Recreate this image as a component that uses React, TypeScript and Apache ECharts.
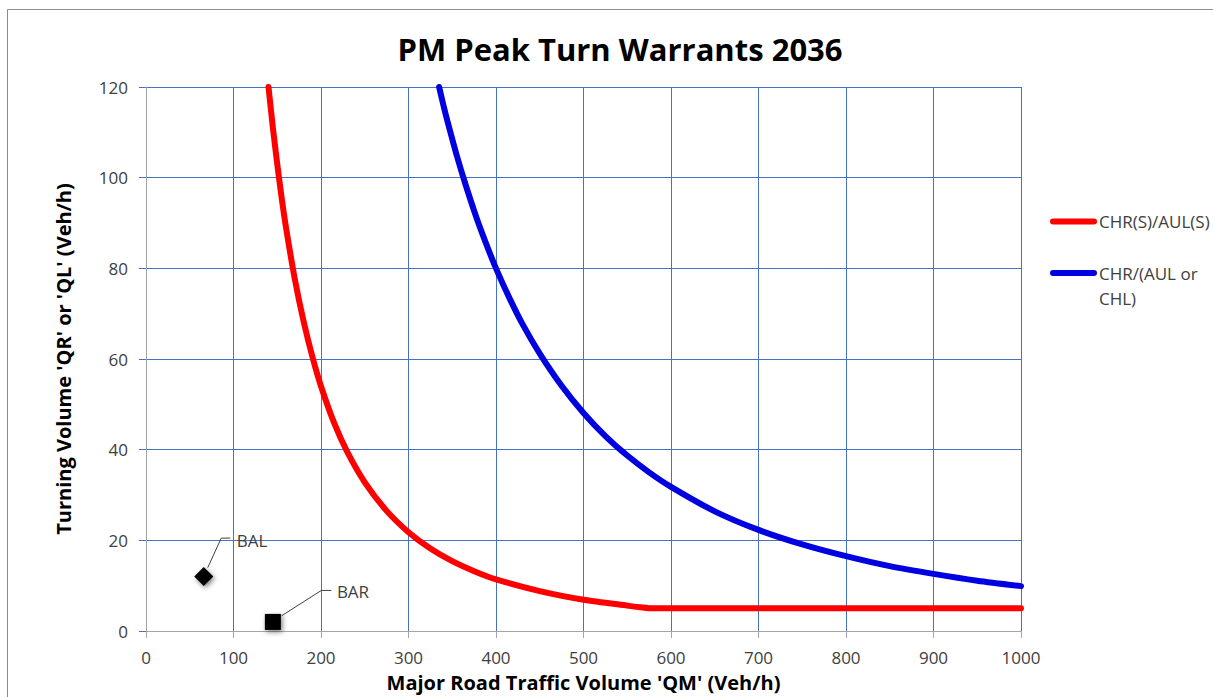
import React, { useEffect, useRef } from "react";
import * as echarts from "echarts";

const titleText = "PM Peak Turn Warrants 2036";
const xAxisName = "Major Road Traffic Volume 'QM' (Veh/h)";
const yAxisName = "Turning Volume 'QR' or 'QL' (Veh/h)";

const seriesNames = ["CHR(S)/AUL(S)", "CHR/(AUL or CHL)"];
const legendLabels = ["CHR(S)/AUL(S)", "CHR/(AUL or\nCHL)"];
const seriesColors = ["#FF0000", "#0000E0"];

// CHR(S)/AUL(S) curve (red)
const redX = [140, 145, 150, 155, 160, 170, 180, 190, 200, 215, 230, 250, 275, 300, 325, 350, 375, 400, 450, 500, 550, 565, 579, 600, 700, 800, 900, 1000];
const redY = [120, 111, 103, 95.6, 89, 77.7, 68.4, 60.6, 54, 45.9, 39.5, 32.8, 26.5, 21.8, 18.2, 15.4, 13.2, 11.4, 8.8, 6.9, 5.6, 5.25, 5, 5, 5, 5, 5, 5];

// CHR/(AUL or CHL) curve (blue)
const blueX = [335, 340, 345, 355, 365, 378, 390, 400, 415, 430, 450, 475, 500, 525, 550, 575, 600, 650, 700, 750, 800, 850, 900, 950, 1000];
const blueY = [120, 115.9, 112.1, 105, 98.6, 91, 84.8, 80, 73.6, 67.8, 61.2, 54.1, 48.1, 43, 38.7, 35, 31.8, 26.4, 22.3, 19.1, 16.5, 14.3, 12.6, 11.1, 9.9];

// Turning movements
const pointNames = ["BAL", "BAR"];
const pointX = [66, 145];
const pointY = [12, 2];
const pointSymbols = ["diamond", "rect"];
const pointSizes = [19, 16];

const xTicks = { min: 0, max: 1000, interval: 100 };
const yTicks = { min: 0, max: 120, interval: 20 };

const FONT = "'Open Sans', 'DejaVu Sans', sans-serif";
const GRID_BLUE = "#4472C4";
const AXIS_GRAY = "#A6A6A6";
const TEXT_GRAY = "#404040";

// label leader offsets relative to marker centre (px): start, knee, end, text
const leaderOffsets = [
  { s: [4, -9], k: [17.5, -38.5], e: [26.5, -38.5], t: [33, -36] },
  { s: [8.5, -6], k: [48.5, -31.5], e: [58.5, -31.5], t: [64, -30] },
];

export default function App() {
  const ref = useRef<HTMLDivElement>(null);

  useEffect(() => {
    document.body.style.margin = "0";
    document.body.style.overflow = "hidden";
    const chart = echarts.init(ref.current!, null, { renderer: "svg" });

    const lineSeries = [
      { name: seriesNames[0], xs: redX, ys: redY, color: seriesColors[0] },
      { name: seriesNames[1], xs: blueX, ys: blueY, color: seriesColors[1] },
    ].map((s) => ({
      type: "line",
      name: s.name,
      data: s.xs.map((x, i) => [x, s.ys[i]]),
      showSymbol: false,
      smooth: 0.25,
      clip: true,
      lineStyle: { color: s.color, width: 6, cap: "round", join: "round" },
      itemStyle: { color: s.color },
      silent: true,
      z: 3,
    }));

    const scatterSeries = pointNames.map((n, i) => ({
      type: "scatter",
      name: n,
      data: [[pointX[i], pointY[i]]],
      symbol: pointSymbols[i],
      symbolSize: pointSizes[i],
      itemStyle: {
        color: "#000000",
        opacity: 1,
        shadowBlur: 5,
        shadowColor: "rgba(0,0,0,0.5)",
        shadowOffsetX: 1.5,
        shadowOffsetY: 2,
      },
      z: 4,
    }));

    const baseGraphic: any[] = [
      {
        type: "rect",
        z: -10,
        shape: { x: 7.5, y: 9.5, width: 1400, height: 900 },
        style: { fill: "none", stroke: "#8C8C8C", lineWidth: 1 },
      },
    ];
    // legend
    const legendY = [221.5, 273];
    seriesNames.forEach((_, i) => {
      baseGraphic.push({
        type: "line",
        shape: { x1: 1053, y1: legendY[i], x2: 1094, y2: legendY[i] },
        style: { stroke: seriesColors[i], lineWidth: 6, lineCap: "round" },
      });
      baseGraphic.push({
        type: "text",
        x: 1099,
        y: legendY[i] - 12.5,
        style: {
          text: legendLabels[i],
          fill: TEXT_GRAY,
          font: `17px ${FONT}`,
          lineHeight: 25,
          textVerticalAlign: "top",
        },
      });
    });

    chart.setOption({
      animation: false,
      backgroundColor: "#ffffff",
      title: {
        text: titleText,
        left: 615,
        top: 28,
        textAlign: "center",
        textStyle: { fontFamily: FONT, fontSize: 31, fontWeight: "bold", color: "#000000" },
      },
      grid: { left: 146, top: 87, right: 192, bottom: 66, containLabel: false },
      xAxis: {
        type: "value",
        min: xTicks.min,
        max: xTicks.max,
        interval: xTicks.interval,
        name: xAxisName,
        nameLocation: "middle",
        nameGap: 41,
        nameTextStyle: { fontFamily: FONT, fontSize: 20, fontWeight: "bold", color: "#000000" },
        axisLine: { show: true, lineStyle: { color: AXIS_GRAY, width: 1 } },
        axisTick: { show: true, length: 7, lineStyle: { color: AXIS_GRAY } },
        axisLabel: {
          fontFamily: FONT,
          fontSize: 17,
          color: TEXT_GRAY,
          margin: 18,
          formatter: (v: number) => String(v),
        },
        splitLine: { show: true, lineStyle: { color: GRID_BLUE, width: 1 } },
      },
      yAxis: {
        type: "value",
        min: yTicks.min,
        max: yTicks.max,
        interval: yTicks.interval,
        name: yAxisName,
        nameLocation: "middle",
        nameGap: 73,
        nameRotate: 90,
        nameTextStyle: { fontFamily: FONT, fontSize: 20, fontWeight: "bold", color: "#000000" },
        axisLine: { show: true, lineStyle: { color: AXIS_GRAY, width: 1 } },
        axisTick: { show: true, length: 7, lineStyle: { color: GRID_BLUE } },
        axisLabel: {
          fontFamily: FONT,
          fontSize: 17,
          color: TEXT_GRAY,
          margin: 18,
          formatter: (v: number) => String(v),
        },
        splitLine: { show: true, lineStyle: { color: GRID_BLUE, width: 1 } },
      },
      legend: { show: false },
      series: [...lineSeries, ...scatterSeries],
      graphic: baseGraphic,
    });

    // leader lines + point labels positioned from data coordinates
    const extra: any[] = [];
    pointNames.forEach((n, i) => {
      const p = chart.convertToPixel({ seriesIndex: 2 + i }, [pointX[i], pointY[i]]) as number[];
      const o = leaderOffsets[i];
      extra.push({
        type: "polyline",
        z: 5,
        shape: {
          points: [
            [p[0] + o.s[0], p[1] + o.s[1]],
            [p[0] + o.k[0], p[1] + o.k[1]],
            [p[0] + o.e[0], p[1] + o.e[1]],
          ],
        },
        style: { stroke: "#404040", lineWidth: 1, fill: "none" },
      });
      extra.push({
        type: "text",
        z: 5,
        x: p[0] + o.t[0],
        y: p[1] + o.t[1],
        style: {
          text: n,
          fill: TEXT_GRAY,
          font: `17px ${FONT}`,
          textVerticalAlign: "middle",
        },
      });
    });
    chart.setOption({ graphic: [...baseGraphic, ...extra] });

    return () => chart.dispose();
  }, []);

  return <div ref={ref} style={{ width: 1213, height: 697 }} />;
}
